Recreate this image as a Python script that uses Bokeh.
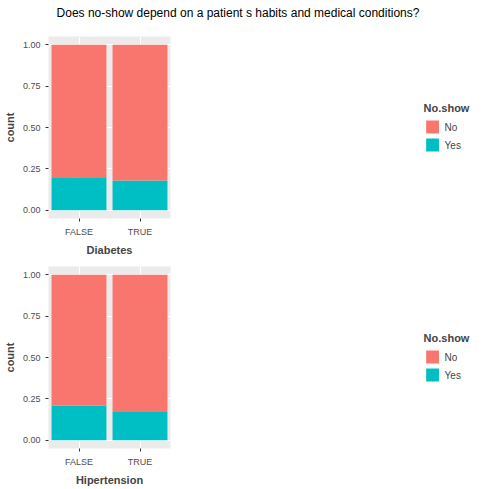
from bokeh.plotting import figure
from bokeh.layouts import column, row
from bokeh.models import Div, Legend, LegendItem, CustomJSTickFormatter
from bokeh.embed import file_html
from bokeh.resources import INLINE

cats = ["FALSE", "TRUE"]
panels = ["Diabetes", "Alcoholism", "Hipertension", "Scholarship"]
yes_share = {
    "Diabetes": [0.20, 0.18],
    "Alcoholism": [0.20, 0.20],
    "Hipertension": [0.21, 0.17],
    "Scholarship": [0.20, 0.24],
}
colors = {"No": "#F8766D", "Yes": "#00BFC4"}

def make(name):
    yes = yes_share[name]
    no = [1 - v for v in yes]
    p = figure(x_range=cats, y_range=(-0.05, 1.05), frame_width=122, frame_height=182,
               output_backend="svg", toolbar_location=None,
               background_fill_color="#EBEBEB", min_border_left=4,
               min_border_top=8, min_border_right=4, min_border_bottom=4)
    src = dict(x=cats, Yes=yes, No=no)
    r = p.vbar_stack(["Yes", "No"], x="x", width=0.9, source=src,
                     color=[colors["Yes"], colors["No"]], line_color=None)
    p.outline_line_color = None
    p.grid.grid_line_color = "white"
    p.xaxis.axis_label = name
    p.yaxis.axis_label = "count"
    for ax in (p.xaxis, p.yaxis):
        ax.axis_label_text_font_style = "bold"
        ax.axis_label_text_font_size = "11px"
        ax.axis_label_text_font = "Liberation Sans"
        ax.major_label_text_font_size = "9px"
        ax.major_label_text_color = "#4D4D4D"
        ax.axis_line_color = None
        ax.minor_tick_line_color = None
        ax.major_tick_line_color = "#333333"
        ax.major_tick_in = 0
        ax.major_tick_out = 3
        ax.axis_label_standoff = 4
    p.yaxis.ticker = [0, 0.25, 0.5, 0.75, 1.0]
    p.yaxis.formatter = CustomJSTickFormatter(code="return tick.toFixed(2)")
    leg = Legend(items=[LegendItem(label="No", renderers=[r[1]]),
                        LegendItem(label="Yes", renderers=[r[0]])],
                 title="No.show", title_text_font_style="bold",
                 title_text_font_size="11px", label_text_font_size="10px",
                 border_line_color=None, glyph_width=16, glyph_height=16,
                 spacing=2, padding=4, margin=14, location="center")
    p.add_layout(leg, "right")
    return p

title = Div(text="Does no-show depend on a patient s habits and medical conditions?",
            width=466, height=18,
            styles={"font-size": "12px", "font-family": "Liberation Sans",
                    "text-align": "center", "width": "466px"})
figs = [make(n) for n in panels]
layout = column(title, row(figs[0], figs[1], spacing=10), row(figs[2], figs[3], spacing=10), spacing=0)
open("out.html", "w").write(file_html(layout, INLINE))
